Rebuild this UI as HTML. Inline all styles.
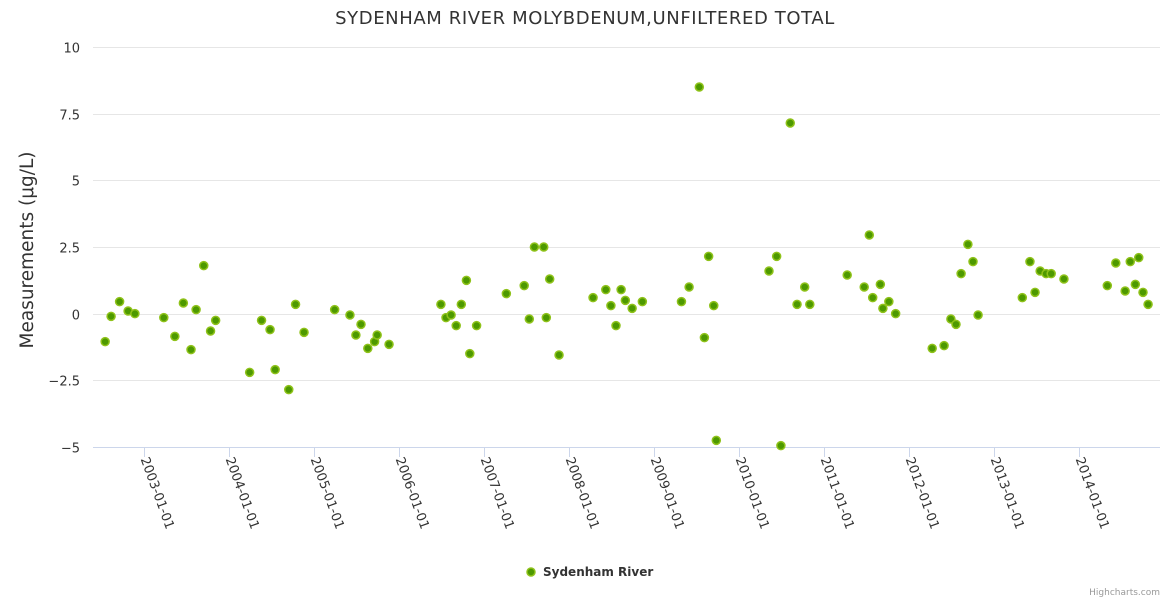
<!DOCTYPE html>
<html><head><meta charset="utf-8"><style>
body{margin:0;background:#fff;font-family:"Liberation Sans",sans-serif;}
svg text{font-family:"DejaVu Sans","Liberation Sans",sans-serif;}
</style></head><body>
<svg id="chart" width="1170" height="600">
<rect width="1170" height="600" fill="#fff"/>
<text x="585" y="24" text-anchor="middle" font-size="18" letter-spacing="0.6" fill="#333">SYDENHAM RIVER MOLYBDENUM,UNFILTERED TOTAL</text>
<text transform="translate(33,250) rotate(-90)" text-anchor="middle" font-size="18.5" fill="#333">Measurements (μg/L)</text>
<g id="grid"></g><g id="xaxis"></g><g id="points"></g>
<g>
<circle cx="531" cy="572" r="4" fill="#4d9900" stroke="#8fc21a" stroke-width="1.5"/>
<text x="543" y="576" font-size="12" font-weight="bold" fill="#333">Sydenham River</text>
</g>
<text x="1160" y="595" text-anchor="end" font-size="9" fill="#999">Highcharts.com</text>
</svg>
<script>
const dates=[2002.54,2002.61,2002.71,2002.81,2002.89,2003.23,2003.36,2003.46,2003.55,2003.61,2003.70,2003.78,2003.84,2004.24,2004.38,2004.48,2004.54,2004.70,2004.78,2004.88,2005.24,2005.42,2005.49,2005.55,2005.63,2005.71,2005.74,2005.88,2006.49,2006.55,2006.61,2006.67,2006.73,2006.79,2006.83,2006.91,2007.26,2007.47,2007.53,2007.59,2007.70,2007.73,2007.77,2007.88,2008.28,2008.43,2008.49,2008.55,2008.61,2008.66,2008.74,2008.86,2009.32,2009.41,2009.53,2009.59,2009.64,2009.70,2009.73,2010.35,2010.44,2010.49,2010.60,2010.68,2010.77,2010.83,2011.27,2011.47,2011.53,2011.57,2011.66,2011.69,2011.76,2011.84,2012.27,2012.41,2012.49,2012.55,2012.61,2012.69,2012.75,2012.81,2013.33,2013.42,2013.48,2013.54,2013.61,2013.67,2013.82,2014.33,2014.43,2014.54,2014.60,2014.66,2014.70,2014.75,2014.81];
const values=[-1.05,-0.1,0.45,0.1,0,-0.15,-0.85,0.4,-1.35,0.15,1.8,-0.65,-0.25,-2.2,-0.25,-0.6,-2.1,-2.85,0.35,-0.7,0.15,-0.05,-0.8,-0.4,-1.3,-1.05,-0.8,-1.15,0.35,-0.15,-0.05,-0.45,0.35,1.25,-1.5,-0.45,0.75,1.05,-0.2,2.5,2.5,-0.15,1.3,-1.55,0.6,0.9,0.3,-0.45,0.9,0.5,0.2,0.45,0.45,1.0,8.5,-0.9,2.15,0.3,-4.75,1.6,2.15,-4.95,7.15,0.35,1.0,0.35,1.45,1.0,2.95,0.6,1.1,0.2,0.45,0,-1.3,-1.2,-0.2,-0.4,1.5,2.6,1.95,-0.05,0.6,1.95,0.8,1.6,1.5,1.5,1.3,1.05,1.9,0.85,1.95,1.1,2.1,0.8,0.35];
const yTicks=[-5,-2.5,0,2.5,5,7.5,10];
const yTickLabels=["−5","−2.5","0","2.5","5","7.5","10"];
const xTickYears=[2003,2004,2005,2006,2007,2008,2009,2010,2011,2012,2013,2014];
const NS="http://www.w3.org/2000/svg";
const L=93,R=1160,T=47,B=447,X0=2002.397,X1=2014.95,Y0=-5,Y1=10;
const xs=v=>L+(v-X0)/(X1-X0)*(R-L);
const ys=v=>B-(v-Y0)/(Y1-Y0)*(B-T);
function mk(tag,attrs,parent){const e=document.createElementNS(NS,tag);for(const k in attrs)e.setAttribute(k,attrs[k]);parent.appendChild(e);return e;}
const grid=document.getElementById('grid');
yTicks.forEach((t,i)=>{
 const y=Math.round(ys(t))+0.5;
 const ln=mk('line',{x1:L,x2:R,y1:y,y2:y,stroke:t===Y0?'#ccd6eb':'#e6e6e6','stroke-width':1},grid);
 
 
 const tx=mk('text',{x:80,y:y+5,'text-anchor':'end','font-size':13,fill:'#333'},grid);
 tx.textContent=yTickLabels[i];
 
 
});
const xa=document.getElementById('xaxis');
xTickYears.forEach(yr=>{
 const x=Math.round(xs(yr))+0.5;
 const tk=mk('line',{x1:x,x2:x,y1:B,y2:B+10,stroke:'#ccd6eb'},xa);
 
 
 const tx=mk('text',{transform:`translate(${x-4},${B+12}) rotate(70)`,'font-size':13,fill:'#333'},xa);
 tx.textContent=yr+'-01-01';
 
 
});
const pts=document.getElementById('points');
dates.forEach((d,i)=>{
 const c=mk('circle',{cx:xs(d),cy:ys(values[i]),r:4,fill:'#4d9900',stroke:'#8fc21a','stroke-width':1.5},pts);
 
 
});
</script>
</body></html>
